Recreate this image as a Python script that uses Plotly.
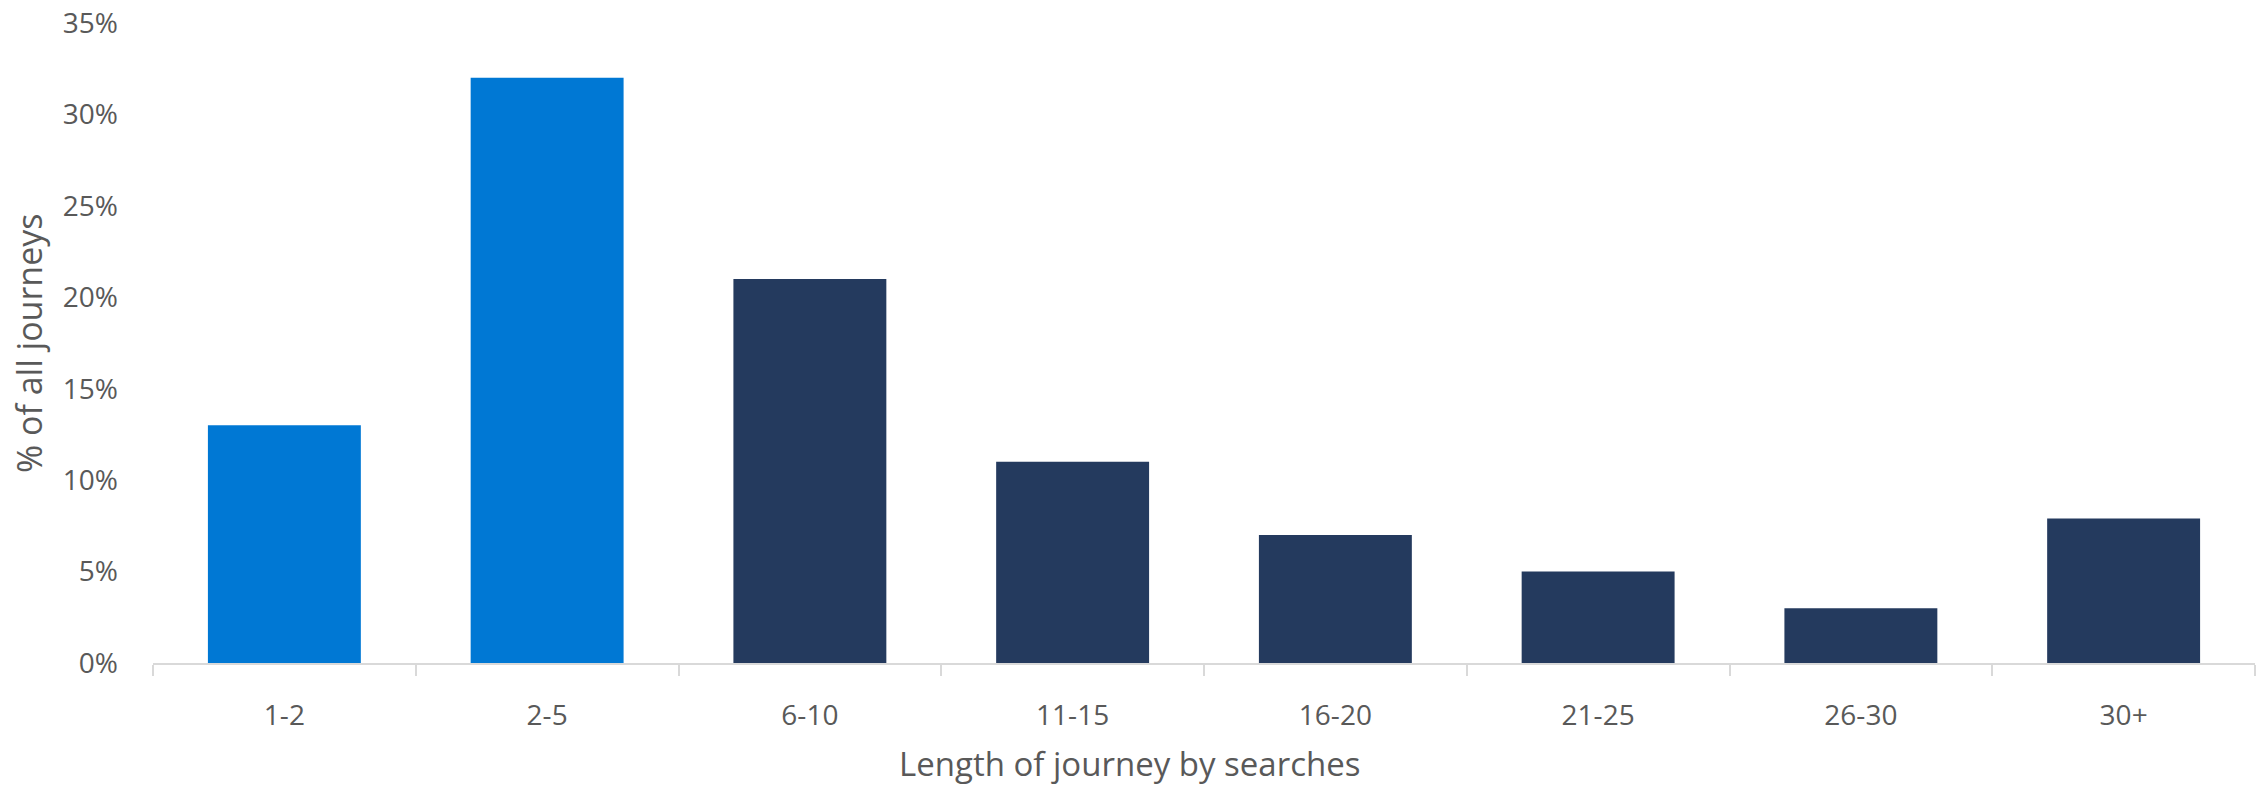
import plotly.graph_objects as go

categories = ["1-2", "2-5", "6-10", "11-15", "16-20", "21-25", "26-30", "30+"]
share_pct = [13, 32, 21, 11, 7, 5, 3, 7.9]
bar_colors = ["#0078D4", "#0078D4", "#243A5E", "#243A5E", "#243A5E", "#243A5E", "#243A5E", "#243A5E"]
y_ticks = [0, 5, 10, 15, 20, 25, 30, 35]
y_tick_text = [f"{v}%" for v in y_ticks]

FONT = "Open Sans, Noto Sans, sans-serif"
GREY = "#595959"

fig = go.Figure(
    go.Bar(
        x=categories,
        y=share_pct,
        marker=dict(color=bar_colors, line=dict(width=0)),
        hoverinfo="x+y",
    )
)

fig.update_layout(
    width=2267,
    height=788,
    margin=dict(l=153, r=12, t=23, b=125),
    paper_bgcolor="white",
    plot_bgcolor="white",
    bargap=0.418,
    showlegend=False,
    font=dict(family=FONT, color=GREY, size=28),
)

fig.update_xaxes(
    type="category",
    automargin=False,
    showline=True,
    linecolor="#d9d9d9",
    linewidth=2,
    ticks="outside",
    tickson="boundaries",
    ticklen=11,
    tickcolor="#d9d9d9",
    tickwidth=2,
    ticklabelstandoff=26,
    tickfont=dict(size=28, color=GREY),
    showgrid=False,
)

fig.update_yaxes(
    range=[0, 35],
    automargin=False,
    tickmode="array",
    tickvals=y_ticks,
    ticktext=y_tick_text,
    showgrid=False,
    zeroline=False,
    showline=False,
    ticks="",
    ticklabelstandoff=34,
    tickfont=dict(size=28, color=GREY),
)

# Axis titles
fig.add_annotation(
    text="Length of journey by searches",
    xref="paper", yref="paper",
    x=(1129 - 153) / (2267 - 153 - 12), y=-(765 - 665) / (788 - 23 - 125),
    xanchor="center", yanchor="middle",
    showarrow=False,
    font=dict(size=33, color=GREY, family=FONT),
)
fig.add_annotation(
    text="% of all journeys",
    xref="paper", yref="paper",
    x=-(153 - 29) / (2267 - 153 - 12), y=1 - (343 - 23) / (788 - 23 - 125),
    xanchor="center", yanchor="middle",
    textangle=-90,
    showarrow=False,
    font=dict(size=34, color=GREY, family=FONT),
)

fig.write_html("out.html")
